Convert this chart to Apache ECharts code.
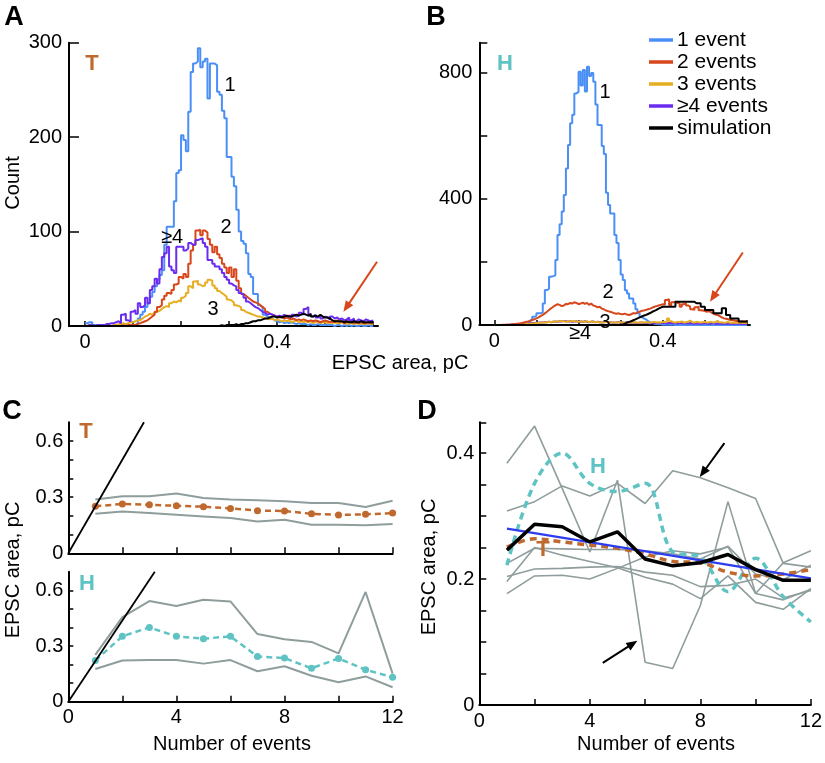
<!DOCTYPE html>
<html><head><meta charset="utf-8">
<script src="https://cdn.jsdelivr.net/npm/echarts@6/dist/echarts.min.js"></script>
<style>html,body{margin:0;padding:0;background:#fff}#c{width:825px;height:763px}</style>
</head><body><div id="c"></div>
<script>
// ---------- DATA ----------
const BIN_W = 0.005; // histogram bin width (pC), bins start at 0
// Panel A (T) histograms, counts per 0.005 pC bin
const aBlue = [3,4,4,1,0,0,0,0,0,0, 0,0,0,0,0,0,0,0,0,0, 1,3,8,12,15,20,24,31,36,42,
  49,54,59,86,105,105,105,132,162,165, 202,197,185,227,269,278,280,294,274,280,
  283,241,278,278,276,248,245,228,220,179, 179,158,148,123,100,90,87,77,55,52,
  34,34,22,20,12,10,9,8,6,5, 4,5,3,4,3,4,3,2,3,2, 2,2,1,2,1,1,2,1,1,1,
  1,1,1,0,1,1,0,1,0,1, 0,1,0,0,1,0,0,1,0,0];
const aRed = [0,1,0,0,0,0,0,0,0,0, 0,0,0,0,0,1,0,1,1,1, 1,2,3,4,5,6,8,10,12,15,
  20,22,28,32,35,34,38,44,45,52, 50,55,52,66,80,86,101,102,96,101,
  99,92,86,78,84,76,72,66,62,56, 62,52,60,48,40,34,32,30,28,26,
  25,24,22,20,18,15,13,12,11,10, 9,10,8,9,8,7,8,6,7,6, 7,6,5,6,5,6,5,4,5,6,
  5,4,5,4,6,4,5,3,4,5, 4,3,4,3,4,3,3,4,3,3];
const aYellow = [0,1,0,0,0,0,0,0,0,1, 0,1,1,2,2,3,2,3,4,4, 5,6,6,8,10,11,13,12,14,15,
  16,18,20,21,20,24,26,25,27,26, 30,32,35,42,40,47,48,44,42,43,
  46,49,48,43,40,37,35,33,31,28, 27,25,22,21,20,17,15,14,13,12,
  11,10,10,9,8,8,7,8,6,7, 6,5,6,5,6,4,5,6,4,5, 4,5,4,5,3,4,5,3,4,4,
  3,4,3,4,3,3,4,3,2,3, 3,2,3,2,3,2,2,3,2,2];
const aPurple = [0,1,1,0,1,1,1,1,2,2, 3,3,4,5,3,12,13,6,5,15, 17,13,24,20,22,30,24,38,42,50,
  45,60,73,77,84,63,59,56,84,84, 84,80,82,88,86,86,91,92,93,88,
  84,70,70,66,63,63,60,56,52,49, 45,43,42,38,35,33,30,26,24,22,
  20,19,17,15,14,12,13,12,11,10, 11,10,12,10,11,9,12,10,11,14, 12,18,20,11,10,12,9,11,8,10,
  9,7,10,8,9,7,8,6,7,9, 6,8,5,7,6,5,7,6,5,6];
const aSim = [0,0,0,0,0,0,0,0,0,0, 0,0,0,0,0,0,0,0,0,0, 0,0,0,0,0,0,0,0,0,0,
  0,0,0,0,0,0,0,0,0,0, 0,0,0,0,0,0,0,0,0,0, 0,0,0,0,0,0,1,0,1,1,
  1,1,2,1,2,2,3,3,4,5, 5,6,6,7,8,8,9,10,10,9, 10,9,10,11,10,10,11,12,11,12,
  13,12,11,13,10,11,10,12,10,9, 9,8,6,5,5,5,5,4,5,4, 4,5,4,4,5,4,4,4,4,4];
// Panel B (H) histograms
const bBlue = [0,0,0,0,0,0,0,0,0,1, 1,1,1,2,4,5,8,15,26,30, 37,37,40,68,111,115,153,155,158,206,
  286,320,360,413,497,571,640,667,735,740, 804,760,809,741,820,790,800,772,700,635,
  635,568,543,420,381,354,354,286,260,206, 160,143,110,100,84,84,68,50,37,25,
  21,18,12,8,6,4,3,2,2,1, 1,1,1,1,1,0,1,0,1,0, 0,0,1,0,0,0,0,1,0,0,
  0,0,0,0,0,0,0,0,0,0, 0,0,0,0,0,0,0,0,0,0];
const bRed = [0,0,0,1,1,1,1,2,2,3, 4,5,6,8,10,11,13,16,18,21, 24,28,32,37,42,48,53,58,62,66,
  64,60,62,67,66,70,68,72,70,66, 68,71,67,70,64,68,62,60,56,58,
  52,50,46,44,42,40,37,36,37,35, 34,36,33,32,34,38,36,40,42,45,
  46,48,50,52,55,58,60,62,64,66, 64,79,82,63,72,74,70,69,58,66, 69,62,58,50,48,56,58,47,46,44,
  42,44,40,36,33,32,28,24,21,20, 18,16,16,14,13,12,11,11,10,10];
const bYellow = [0,0,0,0,0,0,0,1,0,1, 1,1,2,2,3,3,4,5,5,6, 6,7,8,8,9,10,9,11,10,12,
  11,13,12,10,12,11,13,12,11,10, 12,11,10,12,9,11,10,9,10,8, 9,8,10,9,8,9,8,7,8,9,
  8,7,9,8,7,8,9,7,8,9, 8,9,8,7,9,10,8,9,8,10, 9,10,21,12,9,8,10,9,11,8, 9,10,14,9,8,10,9,8,9,10,
  8,9,10,8,9,13,8,9,7,8, 10,7,8,7,6,8,7,6,7,6];
const bPurple = [0,0,0,0,0,1,1,1,2,2, 2,3,3,4,4,5,5,6,6,7, 7,8,8,9,9,10,9,10,11,10,
  12,11,13,12,11,12,10,11,12,10, 11,10,12,10,9,10,11,9,10,9, 8,9,10,8,9,8,7,8,9,7,
  8,7,8,7,6,8,7,6,7,8, 6,7,6,5,7,6,7,5,6,7, 6,5,7,6,5,6,5,6,7,5, 6,5,6,5,4,6,5,4,5,6,
  5,4,5,6,4,5,4,5,4,5, 4,5,4,3,5,4,3,4,3,4];
const bSim = [0,0,0,0,0,0,0,0,0,0, 0,0,0,0,0,0,0,0,0,0, 0,0,0,0,0,0,0,0,0,0,
  0,0,0,0,0,0,0,0,0,0, 0,0,0,0,0,0,0,0,0,0, 0,0,0,0,0,0,0,0,0,1,
  2,4,8,10,12,15,18,21,24,27, 30,32,35,38,42,45,48,52,55,58, 58,58,58,58,58,58,74,74,74,74,
  74,74,74,74,74,69,69,69,58,58, 48,48,48,48,37,37,37,37,53,53, 32,32,21,21,21,21,11,11,11,11];

// Panels C, D: EPSC area (pC) vs number of events
const nEvents = [1,2,3,4,5,6,7,8,9,10,11,12];
const meanT  = [0.251,0.264,0.259,0.254,0.249,0.240,0.228,0.226,0.211,0.205,0.208,0.215];
const meanH  = [0.222,0.352,0.400,0.352,0.339,0.352,0.243,0.235,0.180,0.233,0.172,0.132];
const cTupper = [0.287,0.305,0.305,0.319,0.296,0.287,0.283,0.278,0.269,0.269,0.247,0.281];
const cTlower = [0.211,0.224,0.215,0.206,0.197,0.188,0.170,0.179,0.152,0.152,0.150,0.156];
const cHupper = [0.252,0.455,0.542,0.515,0.549,0.540,0.364,0.336,0.322,0.260,0.591,0.151];
const cHlower = [0.176,0.222,0.224,0.224,0.205,0.224,0.164,0.191,0.140,0.105,0.136,0.078];
const unityT = [[0,0],[2.8,0.7]];
const unityH = [[0,0],[3.2,0.7]];
const dCell1 = [0.384,0.443,0.344,0.243,0.357,0.068,0.058,0.158,0.323,0.177,0.226,0.245];
const dCell2 = [0.308,0.323,0.348,0.332,0.352,0.320,0.372,0.361,0.345,0.328,0.225,0.219];
const dCell3 = [0.225,0.249,0.248,0.247,0.247,0.245,0.240,0.232,0.252,0.208,0.199,0.222];
const dCell4 = [0.204,0.216,0.217,0.219,0.220,0.211,0.206,0.188,0.190,0.200,0.170,0.182];
const dCell5 = [0.177,0.205,0.206,0.200,0.217,0.235,0.245,0.240,0.251,0.177,0.167,0.184];
const dCell6 = [0.196,0.250,0.238,0.228,0.218,0.203,0.192,0.169,0.205,0.163,0.152,0.185];
const dSim = [0.246,0.287,0.283,0.259,0.275,0.232,0.221,0.226,0.239,0.215,0.198,0.198];
const dFit = [[1,0.280],[12,0.201]];
// annotation arrows (data coords: from, to)
const arrowA = [[0.608,68],[0.538,15]];
const arrowB = [[0.590,230],[0.512,74]];
const arrowD1 = [[8.87,0.416],[7.98,0.362]];
const arrowD2 = [[4.47,0.067],[5.72,0.102]];

// ---------- STYLE ----------
const FONT = '"Liberation Sans", Arial, Helvetica, sans-serif';
const C_BLUE='#4a8ff5', C_RED='#d8471c', C_YEL='#e6ae22', C_PUR='#6a2cf0', C_T='#c0692f', C_H='#5fc3c3', C_GRAY='#8f9d9c';
const pair = (xs, ys) => xs.map((x,i)=>[x, ys[i]]);
function stepData(arr){ const d = arr.map((c,i)=>[+(i*BIN_W).toFixed(4), c]); d.push([+(arr.length*BIN_W).toFixed(4), arr[arr.length-1]]); return d; }
function hist(arr, color, gi, z){ return {type:'line', xAxisIndex:gi, yAxisIndex:gi, data:stepData(arr), step:'end', symbol:'none', lineStyle:{color, width:2}, z, silent:true}; }
function ln(gi, data, color, width, extra){ return Object.assign({type:'line', xAxisIndex:gi, yAxisIndex:gi, data, symbol:'none', lineStyle:{color, width}, silent:true}, extra||{}); }
const axLine = {onZero:false, lineStyle:{color:'#000', width:2}};
const lab = (o) => Object.assign({color:'#000', fontSize:20, fontFamily:FONT}, o);
const fmtNum = v => Math.abs(v)<1e-9 ? '0' : String(+v.toFixed(2));

const grids = [
  {left:69, top:42.7, width:309, height:283.3},
  {left:479.3, top:42.7, width:270.7, height:282.3},
  {left:68.3, top:422.3, width:324.3, height:131},
  {left:68.3, top:571.7, width:324.3, height:130},
  {left:479.3, top:422.3, width:335, height:282.7}
];
const histTicks = [0,0.1,0.2,0.3,0.4,0.5,0.6];
const xAxis = [
  {gridIndex:0, type:'value', min:-0.0333, max:0.61, axisLine:axLine, splitLine:{show:false},
   axisTick:{inside:true, length:5, customValues:histTicks, lineStyle:{color:'#000',width:1.5}},
   axisLabel:lab({customValues:[0,0.4], margin:6, formatter:fmtNum})},
  {gridIndex:1, type:'value', min:-0.0356, max:0.607, axisLine:axLine, splitLine:{show:false},
   axisTick:{inside:true, length:5, customValues:histTicks, lineStyle:{color:'#000',width:1.5}},
   axisLabel:lab({customValues:[0,0.4], margin:6, formatter:fmtNum})},
  {gridIndex:2, type:'value', min:0, max:12, interval:2, axisLine:axLine, splitLine:{show:false},
   axisTick:{inside:true, length:6, lineStyle:{color:'#000',width:1.5}}, axisLabel:{show:false}},
  {gridIndex:3, type:'value', min:0, max:12, interval:2, axisLine:axLine, splitLine:{show:false},
   axisTick:{inside:true, length:6, lineStyle:{color:'#000',width:1.5}},
   axisLabel:lab({margin:6, formatter:v => v%4===0 ? String(v) : ''})},
  {gridIndex:4, type:'value', min:0, max:12, interval:2, axisLine:axLine, splitLine:{show:false},
   axisTick:{inside:true, length:6, lineStyle:{color:'#000',width:1.5}},
   axisLabel:lab({margin:6, formatter:v => v%4===0 ? String(v) : ''})}
];
const yAxis = [
  {gridIndex:0, type:'value', min:0, max:300, interval:100, axisLine:axLine, splitLine:{show:false},
   axisTick:{inside:true, length:10, lineStyle:{color:'#000',width:1.5}}, axisLabel:lab({margin:7})},
  {gridIndex:1, type:'value', min:0, max:896, interval:200, axisLine:axLine, splitLine:{show:false},
   axisTick:{inside:true, length:8, lineStyle:{color:'#000',width:1.5}},
   axisLabel:lab({margin:7, formatter:v => v%400===0 ? String(v) : ''})},
  {gridIndex:2, type:'value', min:0, max:0.7, interval:0.1, axisLine:axLine, splitLine:{show:false},
   axisTick:{inside:true, length:5, lineStyle:{color:'#000',width:1.5}},
   axisLabel:lab({margin:5, showMaxLabel:false, formatter:v => Math.round(v*10)%3===0 ? fmtNum(v) : ''})},
  {gridIndex:3, type:'value', min:0, max:0.7, interval:0.1, axisLine:axLine, splitLine:{show:false},
   axisTick:{inside:true, length:5, lineStyle:{color:'#000',width:1.5}},
   axisLabel:lab({margin:5, showMaxLabel:false, formatter:v => Math.round(v*10)%3===0 ? fmtNum(v) : ''})},
  {gridIndex:4, type:'value', min:0, max:0.449, interval:0.05, axisLine:axLine, splitLine:{show:false},
   axisTick:{inside:true, length:7, lineStyle:{color:'#000',width:1.5}},
   axisLabel:lab({margin:5, formatter:v => Math.round(v*100)%20===0 ? fmtNum(v) : ''})}
];

const dashed = (gi, ys, color, width, extra) => ln(gi, pair(nEvents, ys), color, width, Object.assign({lineStyle:{color, width, type:[6,4]}}, extra||{}));
const series = [
  hist(aBlue, C_BLUE, 0, 2), hist(aYellow, C_YEL, 0, 3), hist(aRed, C_RED, 0, 4), hist(aPurple, C_PUR, 0, 5), hist(aSim, '#000', 0, 6),
  hist(bBlue, C_BLUE, 1, 2), hist(bPurple, C_PUR, 1, 3), hist(bYellow, C_YEL, 1, 4), hist(bRed, C_RED, 1, 5), hist(bSim, '#000', 1, 6),
  ln(2, pair(nEvents, cTupper), C_GRAY, 2), ln(2, pair(nEvents, cTlower), C_GRAY, 2),
  Object.assign(dashed(2, meanT, C_T, 2.5), {symbol:'circle', symbolSize:7, itemStyle:{color:C_T}, z:4}),
  ln(2, unityT, '#000', 1.8, {z:5}),
  ln(3, pair(nEvents, cHupper), C_GRAY, 2), ln(3, pair(nEvents, cHlower), C_GRAY, 2),
  Object.assign(dashed(3, meanH, C_H, 2.5), {symbol:'circle', symbolSize:7, itemStyle:{color:C_H}, z:4}),
  ln(3, unityH, '#000', 1.8, {z:5})
];
[dCell1,dCell2,dCell3,dCell4,dCell5,dCell6].forEach(c => series.push(ln(4, pair(nEvents, c), C_GRAY, 1.6, {z:2})));
series.push(Object.assign(dashed(4, meanH, C_H, 3.5), {smooth:0.35, z:3, lineStyle:{color:C_H, width:3.5, type:[7,5]}}));
series.push(Object.assign(dashed(4, meanT, C_T, 3.5), {smooth:0.35, z:4, lineStyle:{color:C_T, width:3.5, type:[7,5]}}));
series.push(ln(4, dFit, '#2d3cf0', 2.2, {z:5}));
series.push(ln(4, pair(nEvents, dSim), '#000', 3.5, {z:6}));

const chart = echarts.init(document.getElementById('c'));
chart.setOption({animation:false, backgroundColor:'#fff', grid:grids, xAxis, yAxis, series});

// ---------- ANNOTATIONS ----------
const els = [];
function txt(x, y, s, size, color, bold, rot){
  els.push({type:'text', x, y, rotation:rot||0, z:50,
    style:{text:s, fill:color||'#000', font:(bold?'bold ':'')+size+'px '+FONT, align:'center', verticalAlign:'middle'}});
}
function arrow(gi, seg, color){
  const p = chart.convertToPixel({gridIndex:gi}, seg[0]);
  const q = chart.convertToPixel({gridIndex:gi}, seg[1]);
  const dx=q[0]-p[0], dy=q[1]-p[1], L=Math.hypot(dx,dy), ux=dx/L, uy=dy/L;
  const hl=11, hw=4.5, bx=q[0]-ux*hl, by=q[1]-uy*hl;
  els.push({type:'line', z:50, shape:{x1:p[0],y1:p[1],x2:bx+ux*2,y2:by+uy*2}, style:{stroke:color, lineWidth:2}});
  els.push({type:'polygon', z:50, shape:{points:[[q[0],q[1]],[bx-uy*hw,by+ux*hw],[bx+uy*hw,by-ux*hw]]}, style:{fill:color}});
}
// panel letters
txt(14, 18, 'A', 27, '#000', true); txt(436, 18, 'B', 27, '#000', true);
txt(12, 412, 'C', 27, '#000', true); txt(427, 412, 'D', 27, '#000', true);
// axis titles
txt(13, 183, 'Count', 20, '#000', false, Math.PI/2);
txt(400, 363, 'EPSC area, pC', 20);
txt(13, 570, 'EPSC area, pC', 20, '#000', false, Math.PI/2);
txt(429, 567, 'EPSC area, pC', 20, '#000', false, Math.PI/2);
txt(232, 744, 'Number of events', 20);
txt(656, 744, 'Number of events', 20);
// group labels
txt(92, 64, 'T', 22, C_T, true); txt(505, 64, 'H', 22, C_H, true);
txt(86, 432, 'T', 22, C_T, true); txt(87, 584, 'H', 22, C_H, true);
txt(598, 467, 'H', 22, C_H, true); txt(543, 550, 'T', 22, C_T, true);
// histogram labels
txt(230, 85, '1', 20); txt(226, 227, '2', 20); txt(213, 309, '3', 20); txt(172, 237, '≥4', 20);
txt(605, 92, '1', 20); txt(608, 292, '2', 20); txt(605, 322, '3', 20); txt(580, 333, '≥4', 20);
// legend
const legendItems = [['1 event', C_BLUE], ['2 events', C_RED], ['3 events', C_YEL], ['≥4 events', C_PUR], ['simulation', '#000']];
legendItems.forEach((it, i) => {
  const y = 40 + i*22;
  els.push({type:'line', z:50, shape:{x1:649, y1:y, x2:673, y2:y}, style:{stroke:it[1], lineWidth:3.5}});
  els.push({type:'text', x:677, y, z:50, style:{text:it[0], fill:'#000', font:'21px '+FONT, align:'left', verticalAlign:'middle'}});
});
arrow(0, arrowA, C_RED); arrow(1, arrowB, C_RED);
arrow(4, arrowD1, '#000'); arrow(4, arrowD2, '#000');
chart.setOption({graphic:{elements:els}});
</script></body></html>
